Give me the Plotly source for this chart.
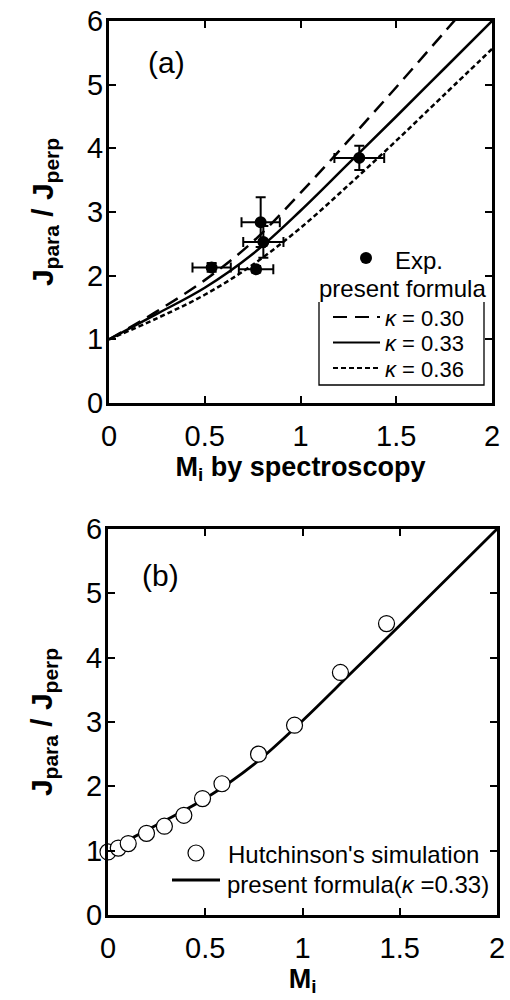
import plotly.graph_objects as go

# Mach number grid for the model curves
M_grid = [0, 0.25, 0.5, 0.75, 1.0, 1.25, 1.5, 1.75, 2.0]
ratio_k030 = [1.0, 1.44, 1.93, 2.53, 3.30, 4.12, 4.96, 5.82, 6.68]
ratio_k033 = [1.0, 1.40, 1.81, 2.34, 3.02, 3.76, 4.50, 5.25, 6.0]
ratio_k036 = [1.0, 1.33, 1.70, 2.17, 2.75, 3.42, 4.12, 4.84, 5.56]

# Measured points (Mi by spectroscopy)
exp_M = [0.536, 0.768, 0.792, 0.806, 1.307]
exp_ratio = [2.13, 2.10, 2.84, 2.53, 3.85]
exp_M_err = [0.10, 0.09, 0.10, 0.105, 0.13]
exp_ratio_err = [0.07, 0.05, 0.39, 0.25, 0.19]

# Hutchinson's simulation
hut_M = [0.0, 0.053, 0.104, 0.198, 0.29, 0.39, 0.486, 0.586, 0.774, 0.959, 1.195, 1.432]
hut_ratio = [0.98, 1.04, 1.11, 1.27, 1.38, 1.55, 1.81, 2.04, 2.50, 2.95, 3.77, 4.53]

x_ticks = [0, 0.5, 1, 1.5, 2]
x_tick_text = ["0", "0.5", "1", "1.5", "2"]
y_ticks = [0, 1, 2, 3, 4, 5, 6]
y_tick_text = ["0", "1", "2", "3", "4", "5", "6"]

kappa_labels = ["<i>κ</i> = 0.30", "<i>κ</i> = 0.33", "<i>κ</i> = 0.36"]
kappa_dashes = ["14px,8px", "solid", "5px,3px"]

FONT = "Liberation Sans, Arial, sans-serif"
W, H = 510, 1000


def px(x):
    return x / W


def py(y):
    return 1 - y / H


fig = go.Figure()

# ---- panel (a) ----
for ratio, dash, label in zip([ratio_k030, ratio_k033, ratio_k036], kappa_dashes, kappa_labels):
    fig.add_trace(go.Scatter(
        x=M_grid, y=ratio, mode="lines", line_shape="spline", name=label,
        line=dict(color="black", width=2.5, dash=dash),
        showlegend=False, xaxis="x", yaxis="y"))
fig.add_trace(go.Scatter(
    x=exp_M, y=exp_ratio, mode="markers", name="Exp.",
    marker=dict(color="black", size=12, symbol="circle"),
    error_x=dict(type="data", array=exp_M_err, color="black", thickness=2, width=5),
    error_y=dict(type="data", array=exp_ratio_err, color="black", thickness=2, width=5),
    cliponaxis=False, showlegend=False, xaxis="x", yaxis="y"))

# ---- panel (b) ----
fig.add_trace(go.Scatter(
    x=M_grid, y=ratio_k033, mode="lines", line_shape="spline",
    name="present formula(κ =0.33)", line=dict(color="black", width=2.8),
    showlegend=False, xaxis="x2", yaxis="y2"))
fig.add_trace(go.Scatter(
    x=hut_M, y=hut_ratio, mode="markers", name="Hutchinson's simulation",
    marker=dict(color="white", size=16, symbol="circle",
                line=dict(color="black", width=1.2)),
    cliponaxis=False, showlegend=False, xaxis="x2", yaxis="y2"))

axis_common = dict(
    showline=True, linewidth=3, linecolor="black", mirror="ticks",
    ticks="inside", ticklen=7, tickwidth=1.5, tickcolor="black",
    showgrid=False, zeroline=False, automargin=False,
    tickfont=dict(family=FONT, size=29, color="black"),
)
xa = dict(axis_common, range=[0, 2], tickvals=x_ticks, ticktext=x_tick_text,
          ticklabelstandoff=5)
ya = dict(axis_common, range=[0, 6], tickvals=y_ticks, ticktext=y_tick_text,
          ticklabelstandoff=-3)

ytitle = "<b>J<sub>para</sub> / J<sub>perp</sub></b>"

annotations = [
    dict(text="(a)", x=px(166), y=py(63), xanchor="center"),
    dict(text="(b)", x=px(160), y=py(575), xanchor="center"),
    # legend texts, panel (a)
    dict(text="Exp.", x=px(393), y=py(260), xanchor="left", font=dict(size=24)),
    dict(text="present formula", x=px(317), y=py(288), xanchor="left", font=dict(size=24)),
    # legend texts, panel (b)
    dict(text="Hutchinson's simulation", x=px(226), y=py(854), xanchor="left",
         font=dict(size=24)),
    dict(text="present formula(<i>κ</i> =0.33)", x=px(225), y=py(884), xanchor="left",
         font=dict(size=24)),
]
for i, label in enumerate(kappa_labels):
    annotations.append(dict(text=label, x=px(383), y=py(318 + 25.5 * i),
                            xanchor="left", font=dict(size=22)))
for a in annotations:
    a.update(xref="paper", yref="paper", showarrow=False, yanchor="middle")
    a.setdefault("font", dict(size=30))

shapes = [
    # open-topped frame around the κ legend entries
    dict(type="path", xref="paper", yref="paper",
         path=f"M {px(319)},{py(302)} L {px(319)},{py(385)} "
              f"L {px(484)},{py(385)} L {px(484)},{py(302)}",
         line=dict(color="black", width=1.3)),
    # legend symbol: Exp.
    dict(type="circle", xref="paper", yref="paper",
         x0=px(360), x1=px(372), y0=py(264), y1=py(252),
         fillcolor="black", line=dict(color="black", width=0)),
    # legend symbol: Hutchinson's simulation
    dict(type="circle", xref="paper", yref="paper",
         x0=px(188), x1=px(204), y0=py(861), y1=py(845),
         fillcolor="white", line=dict(color="black", width=1.2)),
    # legend symbol: present formula, panel (b)
    dict(type="line", xref="paper", yref="paper",
         x0=px(172), x1=px(220), y0=py(880), y1=py(880),
         line=dict(color="black", width=2.8)),
]
for i, dash in enumerate(kappa_dashes):
    shapes.append(dict(type="line", xref="paper", yref="paper",
                       x0=px(333), x1=px(380), y0=py(317 + 25.5 * i), y1=py(317 + 25.5 * i),
                       line=dict(color="black", width=2.2, dash=dash)))

fig.update_layout(
    width=W, height=H, margin=dict(l=0, r=0, t=0, b=0, autoexpand=False),
    paper_bgcolor="white", plot_bgcolor="white",
    font=dict(family=FONT, color="black"),
    showlegend=False,
    xaxis=dict(xa, domain=[px(109), px(492)], anchor="y",
               title=dict(text="<b>M<sub>i</sub> by spectroscopy</b>",
                          font=dict(size=27), standoff=4)),
    yaxis=dict(ya, domain=[py(403), py(21)], anchor="x",
               title=dict(text=ytitle, font=dict(size=30), standoff=25)),
    xaxis2=dict(xa, domain=[px(108), px(497)], anchor="y2",
                title=dict(text="<b>M<sub>i</sub></b>",
                           font=dict(size=27), standoff=0)),
    yaxis2=dict(ya, domain=[py(915), py(529)], anchor="x2",
                title=dict(text=ytitle, font=dict(size=30), standoff=25)),
    annotations=annotations,
    shapes=shapes,
)

fig.write_html("out.html")
